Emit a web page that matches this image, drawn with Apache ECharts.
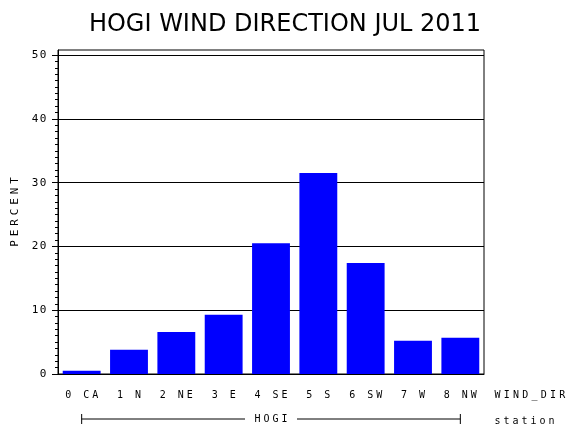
<!DOCTYPE html>
<html>
<head>
<meta charset="utf-8">
<title>HOGI wind direction</title>
<script src="https://cdn.jsdelivr.net/npm/echarts@6/dist/echarts.min.js"></script>
<style>
  html, body { margin: 0; padding: 0; background: #fff; }
  #chart { width: 570px; height: 430px; }
</style>
</head>
<body>
<div id="chart"></div>
<script>
// Data
const categories = ['0 CA', '1 N', '2 NE', '3 E', '4 SE', '5 S', '6 SW', '7 W', '8 NW'];
const percent = [0.5, 3.8, 6.6, 9.3, 20.5, 31.5, 17.4, 5.2, 5.7];
const yTicks = [0, 10, 20, 30, 40, 50];
const yMinorTicks = [];
for (let v = 1; v < 50; v++) {
    if (v % 10 !== 0) yMinorTicks.push(v);
}
const stationName = 'HOGI';
const titleText = 'HOGI WIND DIRECTION JUL 2011';

const smallFont = 'DejaVu Sans Mono';

// Plotter-style fixed pitch text: every character gets its own cell
function spaced(str) {
    return String(str).split('').map(ch => '{c|' + ch + '}').join('');
}
function cell(w, size) {
    return { c: { width: w, align: 'center', fontFamily: smallFont, fontSize: size || 10, color: '#000' } };
}

const chart = echarts.init(document.getElementById('chart'));

const option = {
    animation: false,
    backgroundColor: '#fff',
    title: {
        text: titleText,
        left: 'center',
        top: 8,
        textStyle: {
            fontFamily: 'DejaVu Sans',
            fontWeight: 'normal',
            fontSize: 24,
            color: '#000'
        }
    },
    grid: {
        left: 58,
        right: 86,
        top: 50,
        bottom: 56,
        show: true,
        borderColor: '#000',
        borderWidth: 1,
        backgroundColor: 'transparent'
    },
    xAxis: {
        type: 'category',
        data: categories,
        boundaryGap: true,
        name: spaced('WIND_DIR'),
        nameLocation: 'end',
        nameGap: 9,
        nameTextStyle: { rich: cell(9.25), verticalAlign: 'top', padding: [16, 0, 0, 0] },
        axisLine: { lineStyle: { color: '#000', width: 1 } },
        axisTick: { show: false },
        axisLabel: {
            margin: 16,
            interval: 0,
            formatter: v => spaced(v),
            rich: cell(9)
        }
    },
    yAxis: [{
        type: 'value',
        min: 0,
        max: 50.8,
        interval: 10,
        position: 'left',
        name: spaced('PERCENT'),
        nameLocation: 'middle',
        nameRotate: 90,
        nameGap: 34,
        nameTextStyle: { rich: cell(10.5, 11) },
        axisLine: { show: true, lineStyle: { color: '#000', width: 1 } },
        axisTick: { show: true, length: 6, inside: false, customValues: yTicks, lineStyle: { color: '#000' } },
        axisLabel: {
            margin: 11,
            customValues: yTicks,
            formatter: v => spaced(v),
            rich: cell(8, 11)
        },
        splitLine: { show: true, lineStyle: { color: '#000', width: 1 } }
    }, {
        // minor ticks only
        type: 'value',
        min: 0,
        max: 50.8,
        position: 'left',
        offset: 0,
        axisLine: { show: false },
        axisTick: { show: true, length: 3, inside: false, customValues: yMinorTicks, lineStyle: { color: '#000' } },
        axisLabel: { show: false },
        splitLine: { show: false }
    }],
    series: [{
        type: 'bar',
        data: percent,
        yAxisIndex: 0,
        barCategoryGap: '20%',
        itemStyle: { color: '#0000ff' }
    }]
};

chart.setOption(option);

// Station bracket under the direction labels, placed from the category axis
const xFirst = chart.convertToPixel({ xAxisIndex: 0 }, categories[0]);
const xLast = chart.convertToPixel({ xAxisIndex: 0 }, categories[categories.length - 1]);
const yBase = chart.convertToPixel({ yAxisIndex: 0 }, 0);
const xRight = xLast + (xLast - xFirst) / (categories.length - 1) / 2;
const yBracket = yBase + 45;

chart.setOption({
    graphic: [
        {
            type: 'line',
            shape: { x1: xFirst, y1: yBracket, x2: xLast, y2: yBracket },
            style: { stroke: '#000', lineWidth: 1 }
        },
        {
            type: 'line',
            shape: { x1: xFirst, y1: yBracket - 5, x2: xFirst, y2: yBracket + 5 },
            style: { stroke: '#000', lineWidth: 1 }
        },
        {
            type: 'line',
            shape: { x1: xLast, y1: yBracket - 5, x2: xLast, y2: yBracket + 5 },
            style: { stroke: '#000', lineWidth: 1 }
        },
        {
            type: 'text',
            x: (xFirst + xLast) / 2,
            y: yBracket,
            z: 10,
            style: {
                text: spaced(stationName),
                rich: cell(9),
                align: 'center',
                verticalAlign: 'middle',
                backgroundColor: '#fff',
                padding: [0, 8]
            }
        },
        {
            type: 'text',
            x: xRight + 9,
            y: yBracket + 2,
            style: {
                text: spaced('station'),
                rich: cell(9),
                align: 'left',
                verticalAlign: 'middle'
            }
        }
    ]
});
</script>
</body>
</html>
